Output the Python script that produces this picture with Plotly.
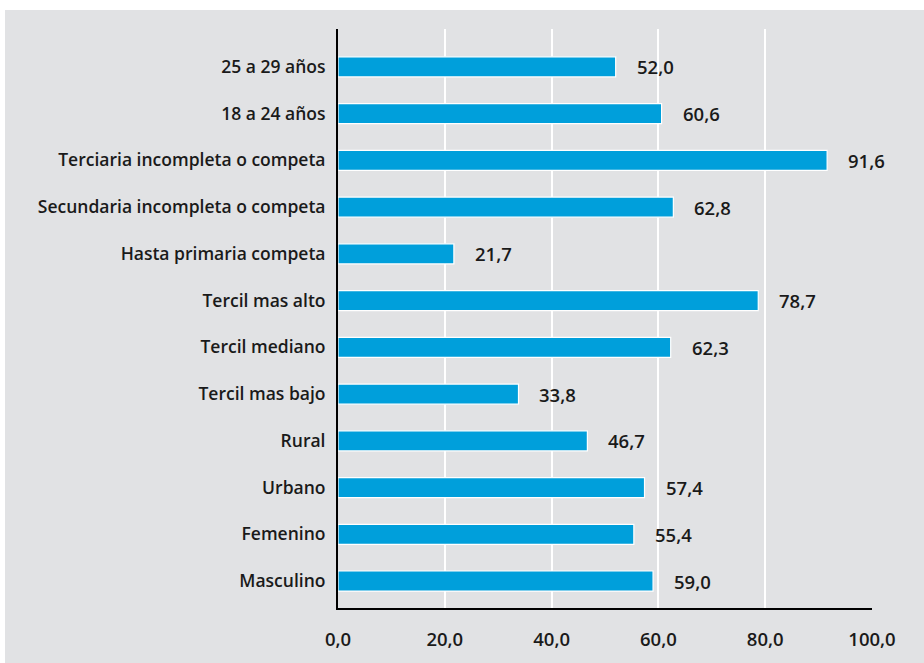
import plotly.graph_objects as go

# Categories listed bottom to top
categories = [
    "Masculino", "Femenino", "Urbano", "Rural",
    "Tercil mas bajo", "Tercil mediano", "Tercil mas alto",
    "Hasta primaria competa", "Secundaria incompleta o competa",
    "Terciaria incompleta o competa", "18 a 24 años", "25 a 29 años",
]
values = [59.0, 55.4, 57.4, 46.7, 33.8, 62.3, 78.7, 21.7, 62.8, 91.6, 60.6, 52.0]
x_ticks = [0, 20, 40, 60, 80, 100]

BG = "#e1e2e4"
BLUE = "#009fdb"
INK = "#1a1a1a"
FONT = "Open Sans"

fig = go.Figure()
fig.add_trace(go.Bar(
    y=categories, x=values, orientation="h",
    marker=dict(color=BLUE, line=dict(color="white", width=1.2)),
    width=0.43, hoverinfo="skip",
))

# Value labels to the right of each bar
for c, v in zip(categories, values):
    fig.add_annotation(
        x=v, y=c, xref="x", yref="y",
        text=f"{v:.1f}".replace(".", ","),
        showarrow=False, xanchor="left", xshift=19, yshift=0,
        font=dict(family=FONT, size=18.5, color=INK, weight=600),
    )

# Gray panel behind the chart, leaving a thin white edge at top and left
fig.add_shape(
    type="rect", xref="paper", yref="paper", layer="below",
    x0=-333 / 534, x1=1 + 60 / 534, y0=-60 / 581, y1=1 + 19 / 581,
    fillcolor=BG, line=dict(width=0),
)

fig.update_layout(
    width=924, height=663,
    margin=dict(l=338, r=52, t=29, b=53),
    paper_bgcolor="white", plot_bgcolor=BG,
    separators=",.",
    showlegend=False,
    bargap=0.5,
    xaxis=dict(
        range=[0, 100], tickvals=x_ticks, tickformat=".1f",
        showgrid=True, gridcolor="white", gridwidth=2,
        zeroline=False,
        showline=True, linecolor="black", linewidth=2,
        ticks="", ticklabelstandoff=14,
        tickfont=dict(family=FONT, size=18.5, color=INK, weight=600),
        fixedrange=True,
    ),
    yaxis=dict(
        range=[-0.576, 11.81],
        categoryorder="array", categoryarray=categories,
        showgrid=False, zeroline=False,
        showline=True, linecolor="black", linewidth=2,
        ticks="", ticklabelstandoff=7,
        tickfont=dict(family=FONT, size=17.5, color=INK, weight=600),
        fixedrange=True,
    ),
)

fig.write_html("out.html")
